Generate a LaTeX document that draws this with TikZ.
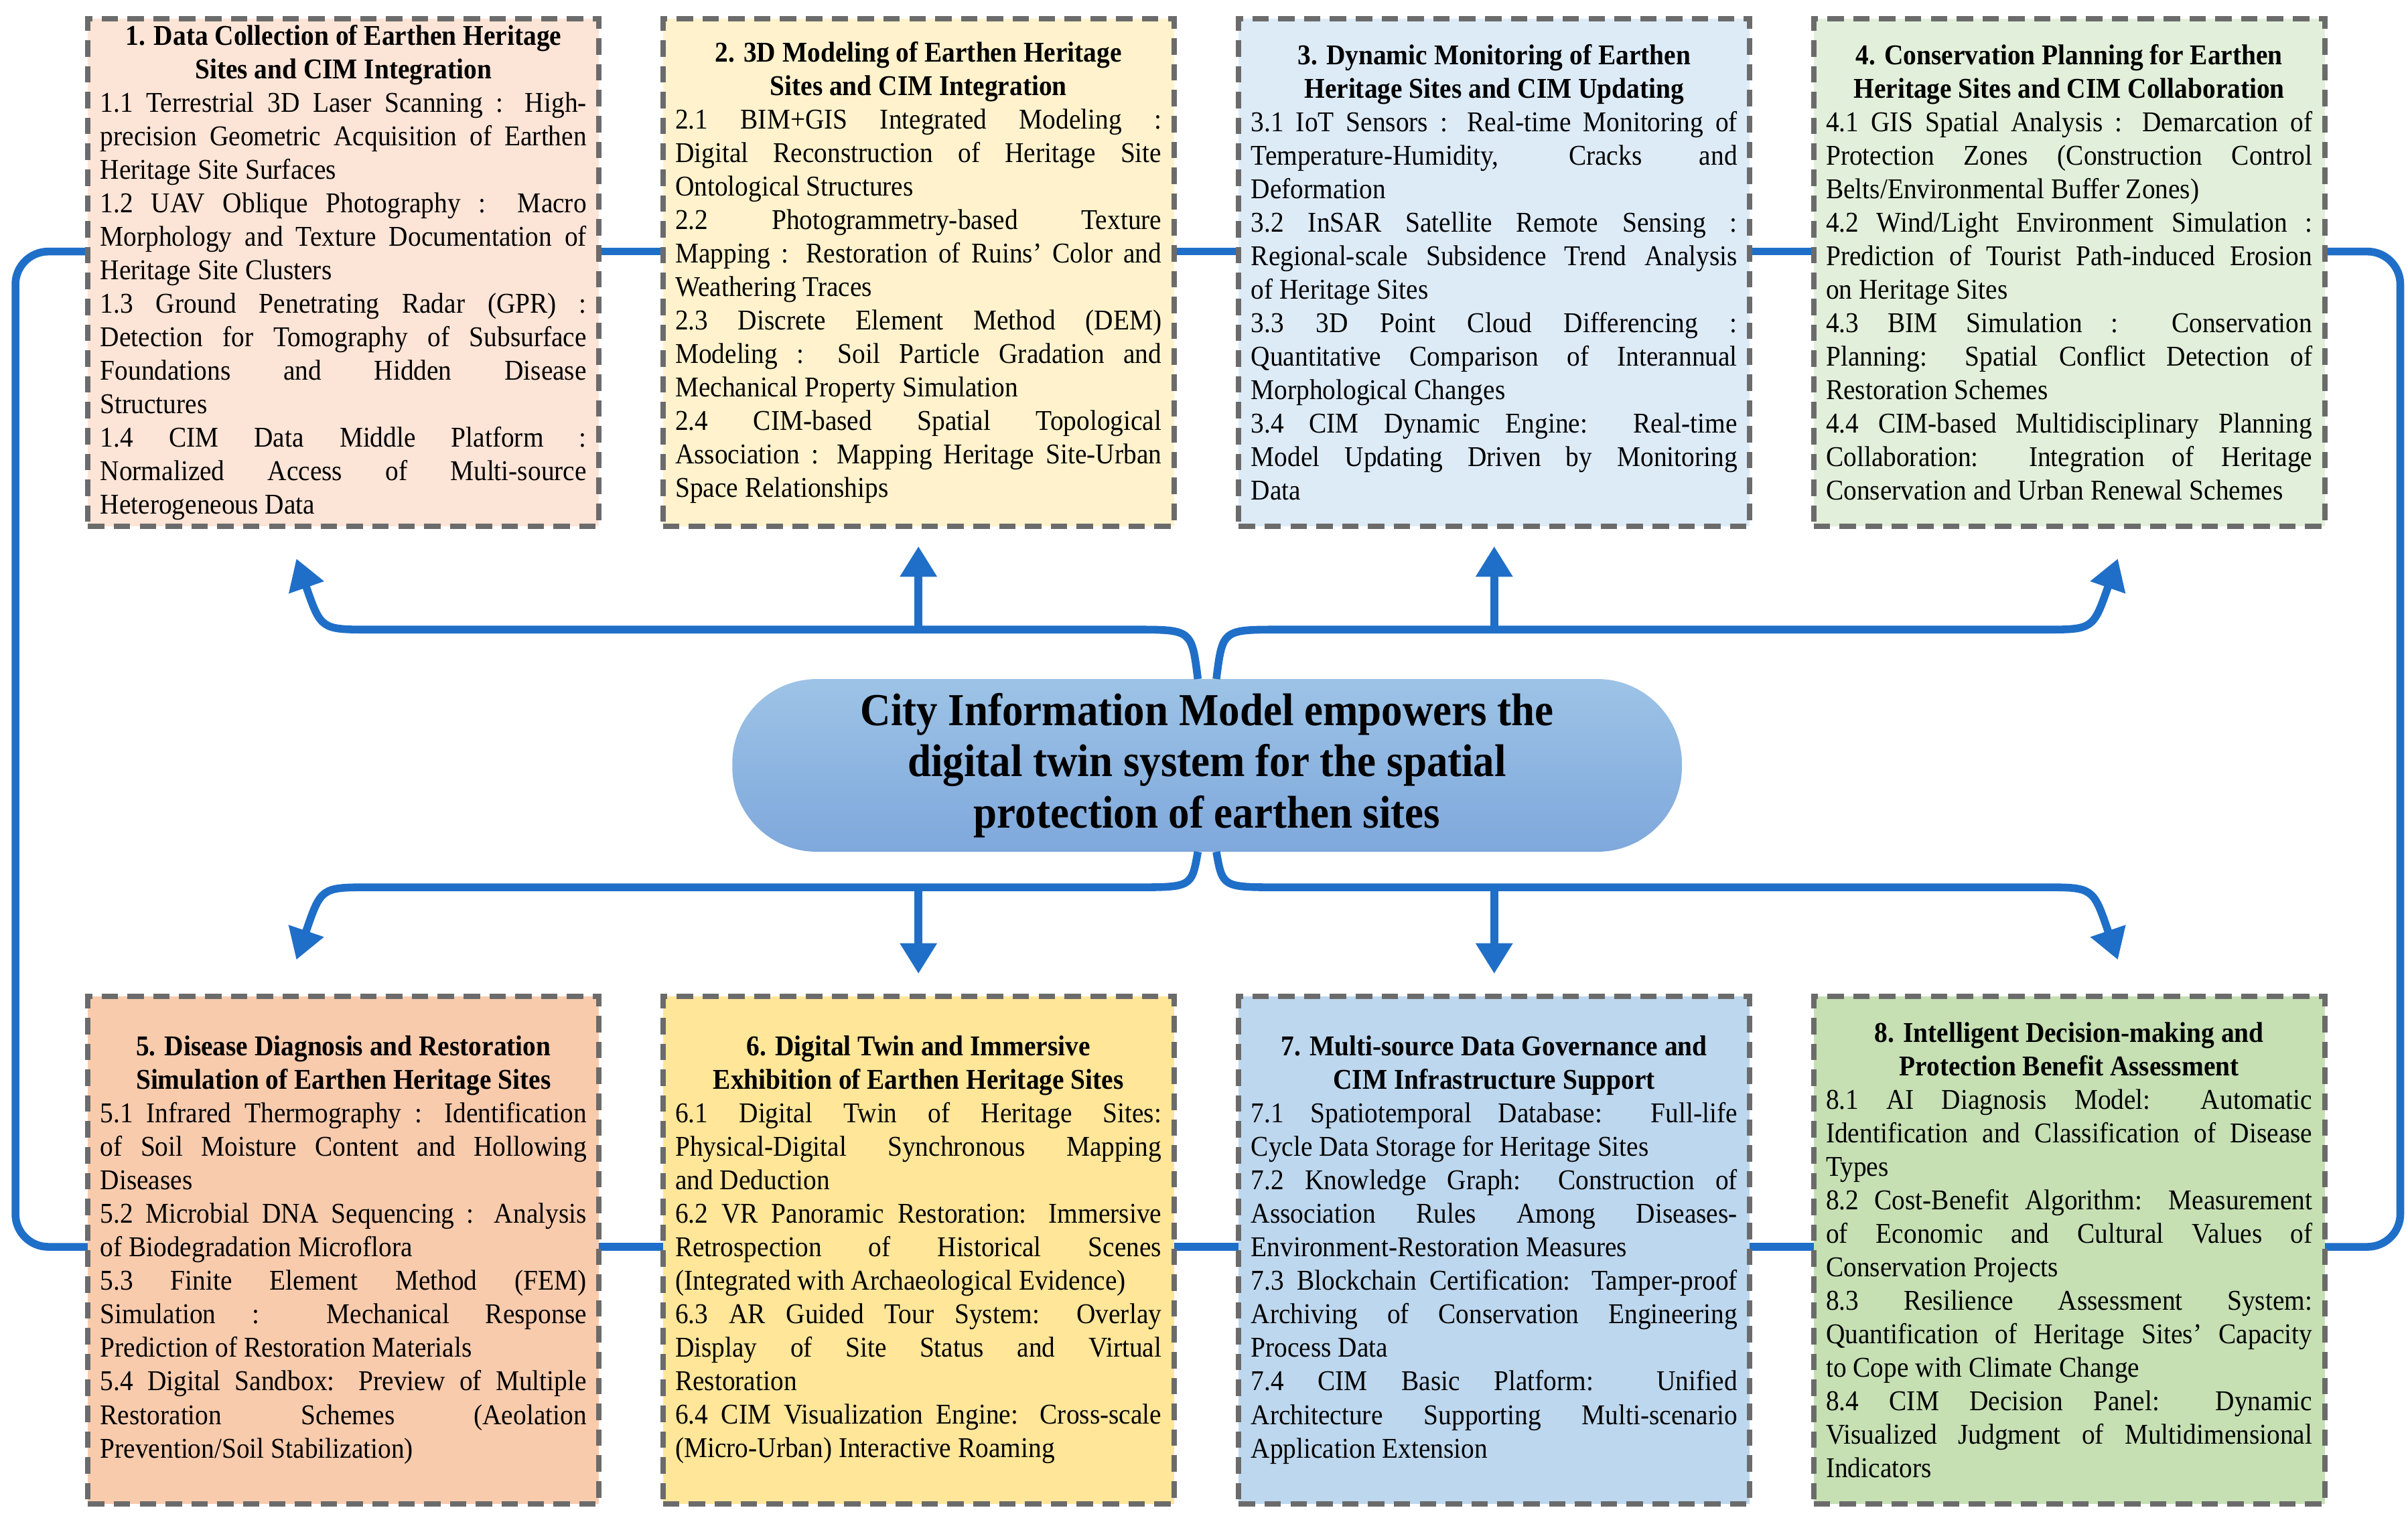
\documentclass[tikz,border=0pt]{standalone}
\usepackage{fontspec}
\setmainfont{Liberation Serif}[FakeStretch=0.92]
\usetikzlibrary{arrows.meta}
\definecolor{bl}{HTML}{1F6FC8}
\definecolor{c1}{HTML}{FCE4D6}
\definecolor{c2}{HTML}{FFF2CC}
\definecolor{c3}{HTML}{DDEBF7}
\definecolor{c4}{HTML}{E2EFDA}
\definecolor{c5}{HTML}{F8CBAD}
\definecolor{c6}{HTML}{FFE699}
\definecolor{c7}{HTML}{BDD7EE}
\definecolor{c8}{HTML}{C6E0B4}
\definecolor{ct}{HTML}{9DC3E6}
\definecolor{cm}{HTML}{DEEAF6}
\definecolor{cb}{HTML}{7FA8DC}
\begin{document}
\begin{tikzpicture}[x=0.6567pt,y=-0.6567pt,
 box/.style={draw=black!58, dash pattern=on 7pt off 4pt, line width=2.2pt, minimum width=217.4pt, minimum height=216pt, text width=206.9pt, align=justify, inner sep=0pt, font=\fontsize{12.2}{14.25}\selectfont\parindent0pt},
 conn/.style={draw=bl, line width=3.3pt},
 arr/.style={conn, -{Triangle[length=13pt,width=15pt]}}]
\useasboundingbox (0,0) rectangle (1560,985);
\coordinate (L1) at (10,163); \coordinate (L2) at (10,808);
\coordinate (R1) at (1555,163); \coordinate (R2) at (1555,808);
\draw[conn, rounded corners=14pt] (100,163) -- (L1) -- (L2) -- (100,808);
\draw[conn, rounded corners=14pt] (1460,163) -- (R1) -- (R2) -- (1460,808);
\draw[conn] (300,163) -- (1300,163);
\draw[conn] (300,808) -- (1300,808);

\node[box, fill=c1] (b1) at (222.5,176.5) {{\centering\bfseries 1. Data Collection of Earthen Heritage\\ Sites and CIM Integration\par}
1.1 Terrestrial 3D Laser Scanning : High-\linebreak precision Geometric Acquisition of Earthen\linebreak Heritage Site Surfaces\par
1.2 UAV Oblique Photography : Macro\linebreak Morphology and Texture Documentation of\linebreak Heritage Site Clusters\par
1.3 Ground Penetrating Radar (GPR) :\linebreak Detection for Tomography of Subsurface\linebreak Foundations and Hidden Disease\linebreak Structures\par
1.4 CIM Data Middle Platform :\linebreak Normalized Access of Multi-source\linebreak Heterogeneous Data\par};
\node[box, fill=c2] (b2) at (595,176.5) {{\centering\bfseries 2. 3D Modeling of Earthen Heritage\\ Sites and CIM Integration\par}
2.1 BIM+GIS Integrated Modeling :\linebreak Digital Reconstruction of Heritage Site\linebreak Ontological Structures\par
2.2 Photogrammetry-based Texture\linebreak Mapping : Restoration of Ruins' Color and\linebreak Weathering Traces\par
2.3 Discrete Element Method (DEM)\linebreak Modeling : Soil Particle Gradation and\linebreak Mechanical Property Simulation\par
2.4 CIM-based Spatial Topological\linebreak Association : Mapping Heritage Site-Urban\linebreak Space Relationships\par};
\node[box, fill=c3] (b3) at (968,176.5) {{\centering\bfseries 3. Dynamic Monitoring of Earthen\\ Heritage Sites and CIM Updating\par}
3.1 IoT Sensors : Real-time Monitoring of\linebreak Temperature-Humidity, Cracks and\linebreak Deformation\par
3.2 InSAR Satellite Remote Sensing :\linebreak Regional-scale Subsidence Trend Analysis\linebreak of Heritage Sites\par
3.3 3D Point Cloud Differencing :\linebreak Quantitative Comparison of Interannual\linebreak Morphological Changes\par
3.4 CIM Dynamic Engine: Real-time\linebreak Model Updating Driven by Monitoring\linebreak Data\par};
\node[box, fill=c4] (b4) at (1340.5,176.5) {{\centering\bfseries 4. Conservation Planning for Earthen\\ Heritage Sites and CIM Collaboration\par}
4.1 GIS Spatial Analysis : Demarcation of\linebreak Protection Zones (Construction Control\linebreak Belts/Environmental Buffer Zones)\par
4.2 Wind/Light Environment Simulation :\linebreak Prediction of Tourist Path-induced Erosion\linebreak on Heritage Sites\par
4.3 BIM Simulation : Conservation\linebreak Planning: Spatial Conflict Detection of\linebreak Restoration Schemes\par
4.4 CIM-based Multidisciplinary Planning\linebreak Collaboration: Integration of Heritage\linebreak Conservation and Urban Renewal Schemes\par};

\node[box, fill=c5] (b5) at (222.5,810) {{\centering\bfseries 5. Disease Diagnosis and Restoration\\ Simulation of Earthen Heritage Sites\par}
5.1 Infrared Thermography : Identification\linebreak of Soil Moisture Content and Hollowing\linebreak Diseases\par
5.2 Microbial DNA Sequencing : Analysis\linebreak of Biodegradation Microflora\par
5.3 Finite Element Method (FEM)\linebreak Simulation : Mechanical Response\linebreak Prediction of Restoration Materials\par
5.4 Digital Sandbox: Preview of Multiple\linebreak Restoration Schemes (Aeolation\linebreak Prevention/Soil Stabilization)\par};
\node[box, fill=c6] (b6) at (595,810) {{\centering\bfseries 6. Digital Twin and Immersive\\ Exhibition of Earthen Heritage Sites\par}
6.1 Digital Twin of Heritage Sites:\linebreak Physical-Digital Synchronous Mapping\linebreak and Deduction\par
6.2 VR Panoramic Restoration: Immersive\linebreak Retrospection of Historical Scenes\linebreak (Integrated with Archaeological Evidence)\par
6.3 AR Guided Tour System: Overlay\linebreak Display of Site Status and Virtual\linebreak Restoration\par
6.4 CIM Visualization Engine: Cross-scale\linebreak (Micro-Urban) Interactive Roaming\par\vspace*{21pt}};
\node[box, fill=c7] (b7) at (968,810) {{\centering\bfseries 7. Multi-source Data Governance and\\ CIM Infrastructure Support\par}
7.1 Spatiotemporal Database: Full-life\linebreak Cycle Data Storage for Heritage Sites\par
7.2 Knowledge Graph: Construction of\linebreak Association Rules Among Diseases-\linebreak Environment-Restoration Measures\par
7.3 Blockchain Certification: Tamper-proof\linebreak Archiving of Conservation Engineering\linebreak Process Data\par
7.4 CIM Basic Platform: Unified\linebreak Architecture Supporting Multi-scenario\linebreak Application Extension\par};
\node[box, fill=c8] (b8) at (1340.5,810) {{\centering\bfseries 8. Intelligent Decision-making and\\ Protection Benefit Assessment\par}
8.1 AI Diagnosis Model: Automatic\linebreak Identification and Classification of Disease\linebreak Types\par
8.2 Cost-Benefit Algorithm: Measurement\linebreak of Economic and Cultural Values of\linebreak Conservation Projects\par
8.3 Resilience Assessment System:\linebreak Quantification of Heritage Sites' Capacity\linebreak to Cope with Climate Change\par
8.4 CIM Decision Panel: Dynamic\linebreak Visualized Judgment of Multidimensional\linebreak Indicators\par};

\node[rounded corners=36pt, minimum width=404pt, minimum height=73.5pt, inner sep=0pt,
  top color=ct, middle color=cm, bottom color=cb, draw=none,
  align=center, font=\fontsize{19.5}{21.7}\selectfont\bfseries] (c) at (782,496)
  {City Information Model empowers the\\ digital twin system for the spatial\\ protection of earthen sites};

\coordinate (cu1) at (776,440); \coordinate (cu2) at (788,440);
\coordinate (cd1) at (776,552); \coordinate (cd2) at (788,552);
\coordinate (t1) at (192,362); \coordinate (t4) at (1372,362);
\coordinate (t5) at (192,622); \coordinate (t8) at (1372,622);
\draw[arr] (cu1) .. controls (772,408) .. (735,408) -- (240,408) .. controls (208,408) .. (t1);
\draw[arr] (cu2) .. controls (792,408) .. (829,408) -- (1324,408) .. controls (1356,408) .. (t4);
\draw[arr] (595,408) -- (b2.south |- 0,354);
\draw[arr] (968,408) -- (b3.south |- 0,354);
\draw[arr] (cd1) .. controls (772,575) .. (735,575) -- (240,575) .. controls (208,575) .. (t5);
\draw[arr] (cd2) .. controls (792,575) .. (829,575) -- (1324,575) .. controls (1356,575) .. (t8);
\draw[arr] (595,575) -- (b6.north |- 0,631);
\draw[arr] (968,575) -- (b7.north |- 0,631);
\end{tikzpicture}
\end{document}
